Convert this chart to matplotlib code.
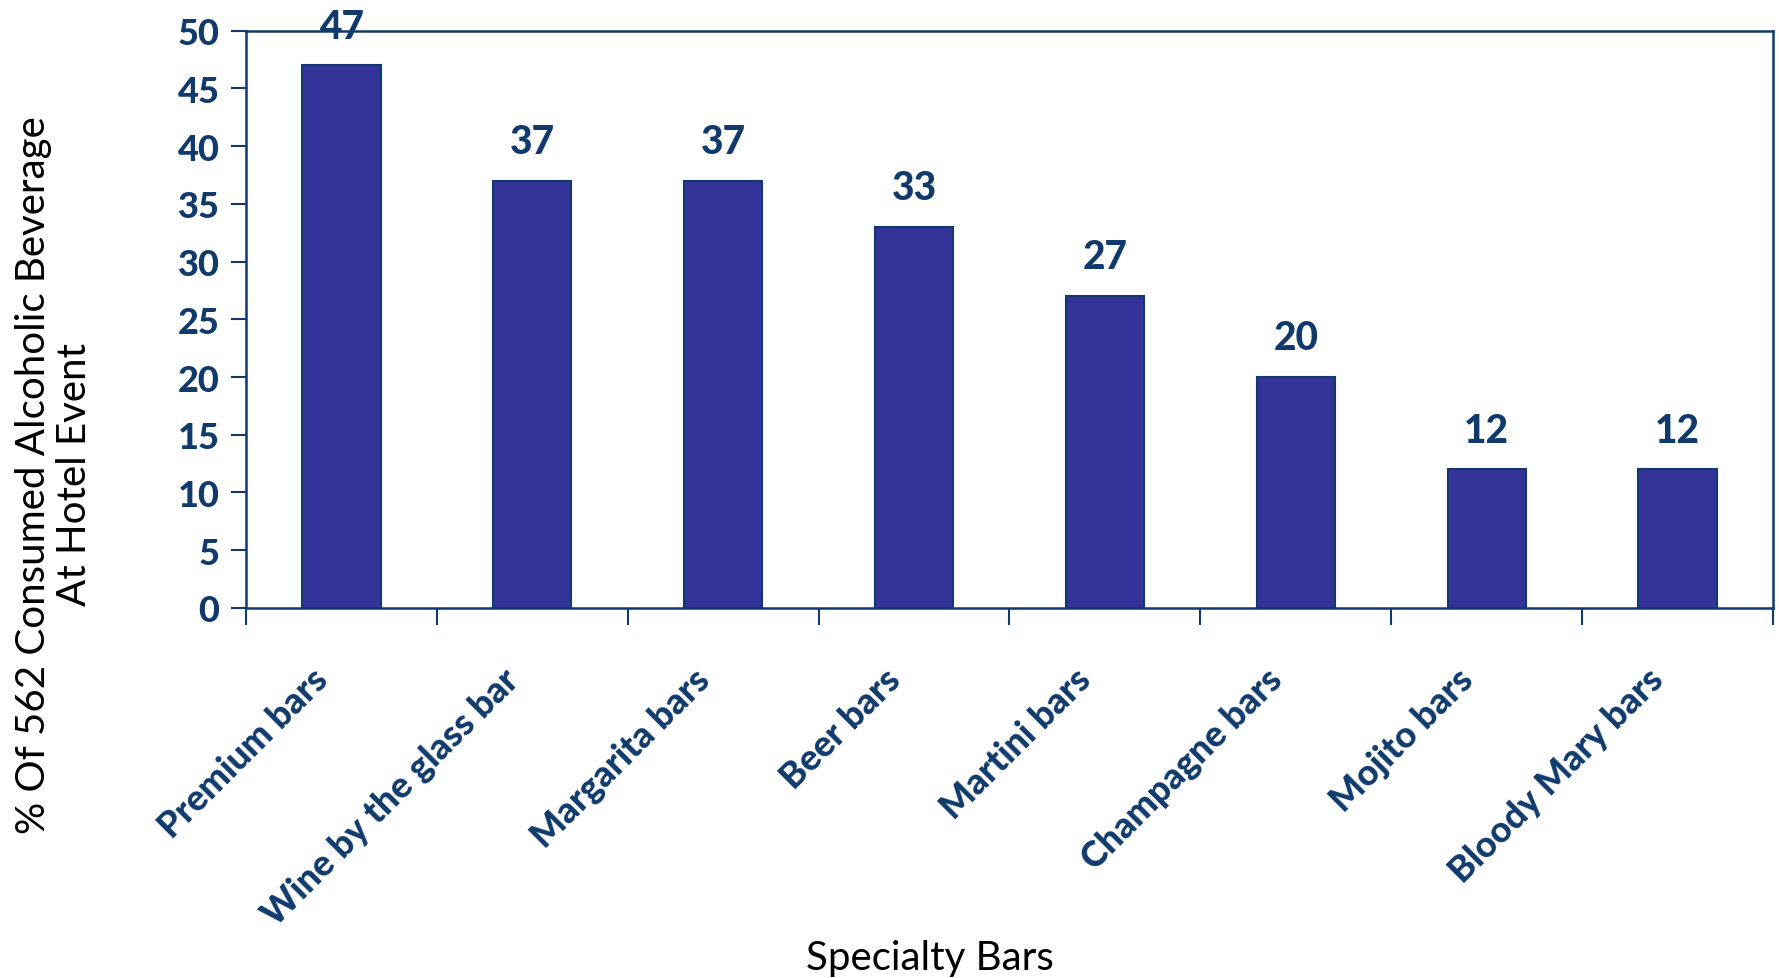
import numpy as np
import matplotlib.pyplot as plt
from matplotlib.transforms import ScaledTranslation

# specialty bar types and share of respondents
bar_types = ['Premium bars', 'Wine by the glass bar', 'Margarita bars', 'Beer bars',
             'Martini bars', 'Champagne bars', 'Mojito bars', 'Bloody Mary bars']
percent = [47, 37, 37, 33, 27, 20, 12, 12]

navy = '#0f3a6b'
fill = '#343399'

fig = plt.figure(figsize=(17.79, 9.79), dpi=100)
ax = fig.add_axes([0.1383, 0.378, 0.8583, 0.5896])

x = np.arange(len(bar_types))
ax.bar(x, percent, width=0.41, color=fill, edgecolor=navy, linewidth=1.5)

for xi, v in zip(x, percent):
    ax.text(xi, v + 1.8, str(v), ha='center', va='bottom', fontsize=28,
            fontweight='black', color=navy, family='Lato')

ax.set_xlim(-0.5, len(bar_types) - 0.5)
ax.set_ylim(0, 50)
ax.set_yticks(np.arange(0, 51, 5))

# ticks sit between categories, labels at the bar centres
ax.set_xticks(np.arange(len(bar_types) + 1) - 0.5)
ax.set_xticklabels([])
ax.set_xticks(x, minor=True)
ax.set_xticklabels(bar_types, minor=True, rotation=45, ha='right', va='center',
                   rotation_mode='anchor', fontsize=26, fontweight='black',
                   color=navy, family='Lato')
ax.tick_params(axis='x', which='minor', length=0, pad=0)
ax.tick_params(axis='x', which='major', length=12, width=1.5, color=navy)
ax.tick_params(axis='y', length=11, width=1.5, color=navy, pad=8)

# nudge the slanted labels down and a little left of the bar centre
shift = ScaledTranslation(-0.19, -0.66, fig.dpi_scale_trans)
for lab in ax.get_xticklabels(minor=True):
    lab.set_transform(lab.get_transform() + shift)

for lab in ax.get_yticklabels():
    lab.set_fontsize(26)
    lab.set_fontweight('black')
    lab.set_color(navy)
    lab.set_family('Lato')

for s in ax.spines.values():
    s.set_color(navy)
    s.set_linewidth(1.8)

fig.text(54 / 1779, 1 - 475 / 979, '% Of 562 Consumed Alcoholic Beverage\nAt Hotel Event',
         rotation=90, ha='center', va='center', multialignment='center',
         fontsize=29, family='Lato', fontweight='normal', color='black', linespacing=1.1)
fig.text(930 / 1779, 1 - 959 / 979, 'Specialty Bars', ha='center', va='center',
         fontsize=29, family='Lato', fontweight='normal', color='black')

fig.savefig('out.png', dpi=100)
